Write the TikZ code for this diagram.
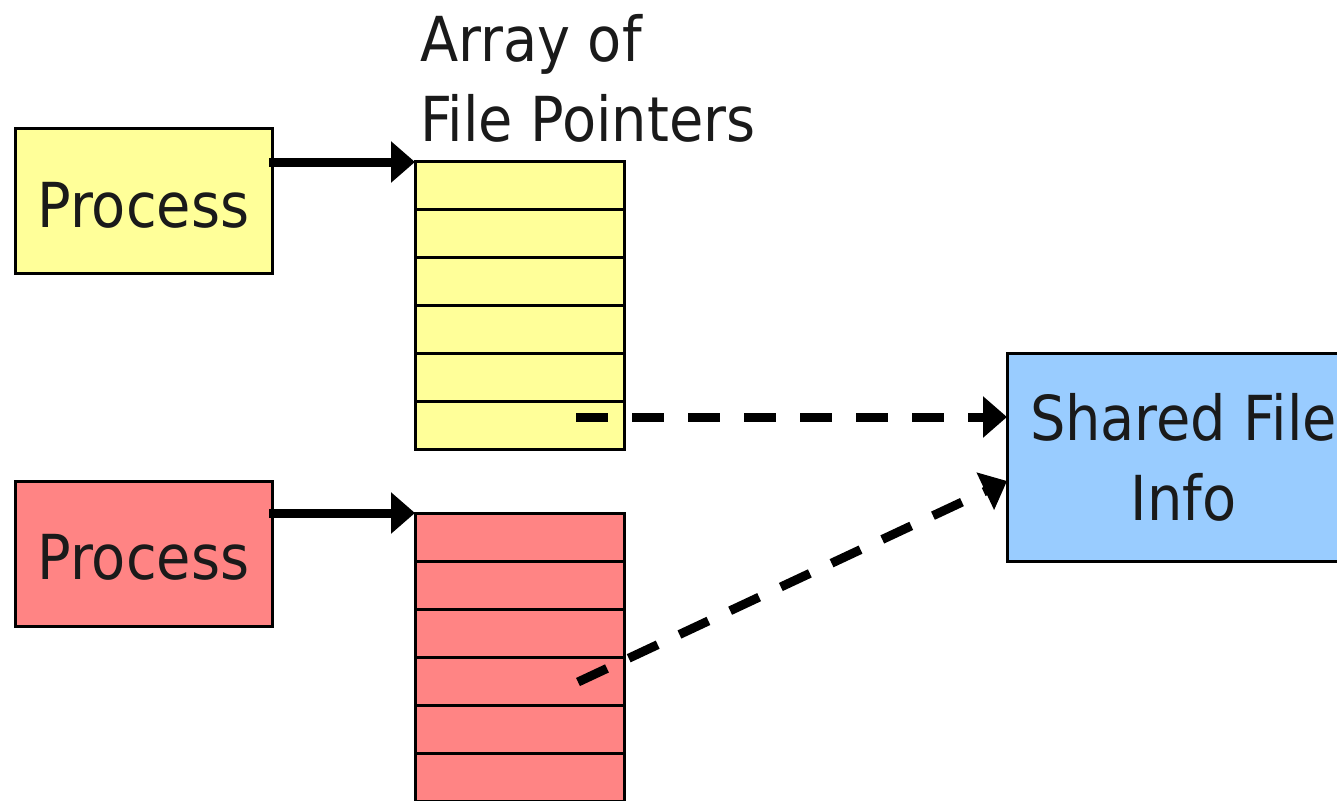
\documentclass[tikz,border=0pt]{standalone}
\usepackage{fontspec}
\setmainfont{DejaVu Sans Condensed}
\usetikzlibrary{arrows.meta,calc}
\definecolor{procyellow}{RGB}{255,255,153}
\definecolor{procred}{RGB}{255,132,132}
\definecolor{infoblue}{RGB}{153,204,255}
\definecolor{ink}{RGB}{26,26,26}
\begin{document}
\begin{tikzpicture}[x=1pt,y=-1pt,
  bigtext/.style={font=\fontsize{62}{80}\selectfont, text=ink},
  procbox/.style={draw, line width=3pt, inner sep=0pt, outer sep=0pt,
    minimum width=257pt, minimum height=145pt, text height=52pt, text depth=0pt, bigtext},
  cell/.style={draw, line width=3pt, inner sep=0pt, outer sep=0pt,
    minimum width=209pt, minimum height=48pt, anchor=north west},
  infobox/.style={draw, line width=3pt, inner sep=0pt, outer sep=0pt,
    minimum width=353pt, minimum height=208pt, align=center, bigtext},
  link/.style={line width=9pt, -{Triangle[length=24pt,width=40pt]}},
  ptr/.style={link, dash pattern=on 32pt off 24pt}]
\clip (0,0) rectangle (1337,800);

% processes
\node[procbox, fill=procyellow] (p1) at (143.5,201) {Process};
\node[procbox, fill=procred]    (p2) at (143.5,553.5) {Process};

% arrays of file pointers
\foreach \i in {1,...,6}{
  \node[cell, fill=procyellow] (a\i) at (415,{161+48*(\i-1)}) {};
  \node[cell, fill=procred]    (b\i) at (415,{513+48*(\i-1)}) {};
}

\node[bigtext, anchor=north west, align=left, inner sep=0pt] (title) at (420,14)
  {Array of\\File Pointers};

% shared file information
\node[infobox, fill=infoblue] (s) at (1183.5,457) {Shared File\\Info};

% process -> table arrows
\draw[link] ($(p1.east |- a1.north west)+(-3,1)$) -- ($(a1.north west)+(0,1)$);
\draw[link] ($(p2.east |- b1.north west)+(-3,0)$) -- (b1.north west);

% table entries -> shared file info
\coordinate (y6p) at (576,417);
\coordinate (r4p) at (578,682);
\draw[ptr] (y6p) -- (s.west |- y6p);
\draw[ptr] (r4p) -- ($(s.west)+(0,24)$);
\end{tikzpicture}
\end{document}
